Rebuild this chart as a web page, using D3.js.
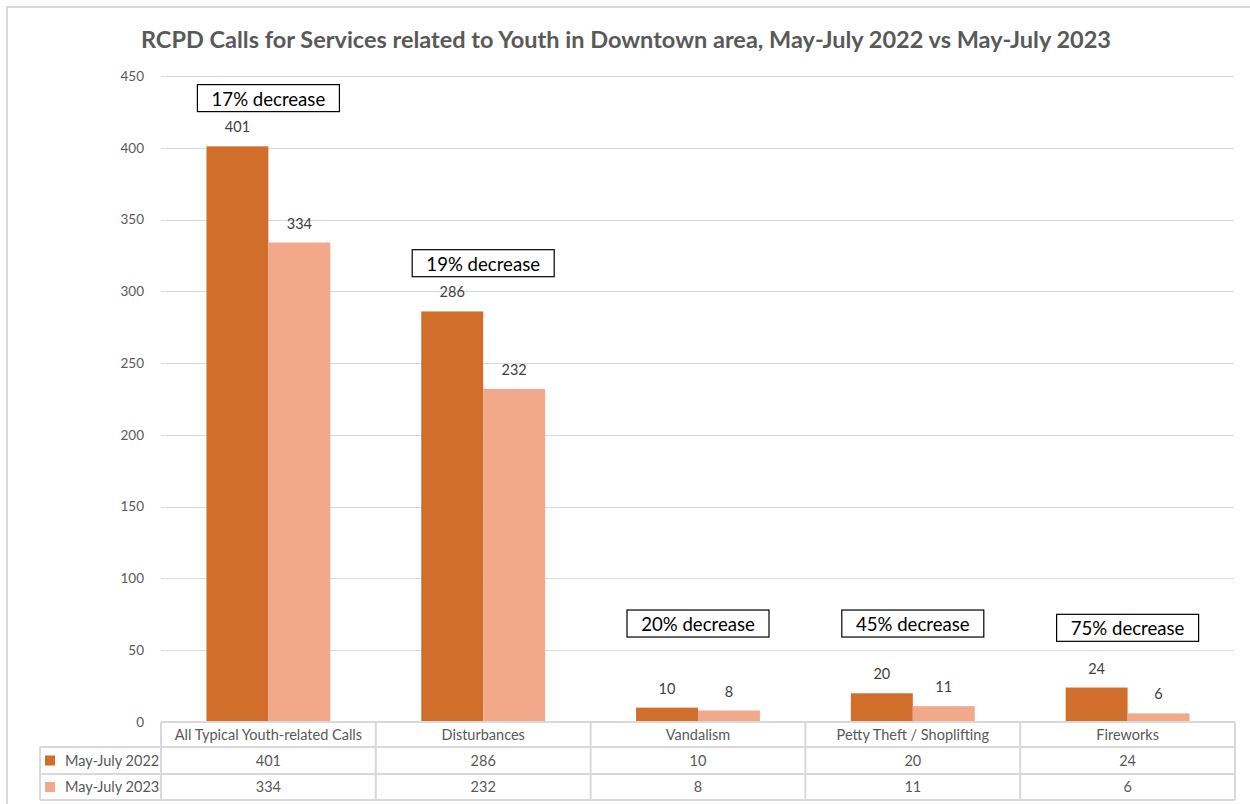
<!DOCTYPE html>
<html>
<head>
<meta charset="utf-8">
<script src="https://cdn.jsdelivr.net/npm/d3@7"></script>
<style>
  html, body { margin: 0; padding: 0; background: #fff; }
  svg { display: block; }
  text { font-family: Lato, "Open Sans", sans-serif; }
</style>
</head>
<body>
<svg id="chart" width="1250" height="804"></svg>
<script>
// ---- data ----
const title = "RCPD Calls for Services related to Youth in Downtown area, May-July 2022 vs May-July 2023";
const categories = ["All Typical Youth-related Calls", "Disturbances", "Vandalism", "Petty Theft / Shoplifting", "Fireworks"];
const seriesNames = ["May-July 2022", "May-July 2023"];
const values2022 = [401, 286, 10, 20, 24];
const values2023 = [334, 232, 8, 11, 6];
const yTicks = [0, 50, 100, 150, 200, 250, 300, 350, 400, 450];
const annotationLabels = ["17% decrease", "19% decrease", "20% decrease", "45% decrease", "75% decrease"];
const annotationTopValues = [444, 329, 78, 78, 75];

// ---- layout ----
const colors = ["#D26E2B", "#F1A88B"];
const svg = d3.select("#chart");
const plot = { left: 161, right: 1235, top: 76, bottom: 722 };
const tableLeft = 40;
const rowH = [25, 27, 26];
const tableFont = 14.5;

// frame
svg.append("path")
  .attr("d", `M7,810 V7 H1260`)
  .attr("fill", "none").attr("stroke", "#d9d9d9").attr("stroke-width", 2);

const x0 = d3.scaleBand().domain(categories).range([plot.left, plot.right]).paddingInner(0).paddingOuter(0);
const x1 = d3.scaleBand().domain(seriesNames).range([0, x0.bandwidth()]).paddingInner(0).paddingOuter(0.734);
const y = d3.scaleLinear().domain([0, 450]).range([plot.bottom, plot.top]);

// title
svg.append("text")
  .attr("x", 626).attr("y", 48)
  .attr("text-anchor", "middle")
  .attr("font-size", 23.5).attr("font-weight", 700)
  .attr("fill", "#595959")
  .text(title);

// gridlines
svg.append("g").selectAll("line").data(yTicks.filter(d => d > 0)).join("line")
  .attr("x1", plot.left).attr("x2", plot.right - 1)
  .attr("y1", d => Math.round(y(d)) + 0.5).attr("y2", d => Math.round(y(d)) + 0.5)
  .attr("stroke", "#d9d9d9").attr("stroke-width", 1.2);

// y axis labels
const yAxis = d3.axisLeft(y).tickValues(yTicks).tickSize(0).tickPadding(0);
const gy = svg.append("g").attr("transform", `translate(${plot.left - 17},0)`).call(yAxis);
gy.select(".domain").remove();
gy.selectAll("text").attr("font-size", 13.5).attr("fill", "#595959").attr("font-family", "Lato, sans-serif");

// bars
const seriesData = [values2022, values2023];
const groups = svg.append("g").selectAll("g").data(seriesData).join("g")
  .attr("fill", (d, i) => colors[i]);
groups.each(function (vals, si) {
  const g = d3.select(this);
  g.selectAll("rect").data(vals).join("rect")
    .attr("x", (v, ci) => x0(categories[ci]) + x1(seriesNames[si]))
    .attr("y", v => y(v))
    .attr("width", x1.bandwidth())
    .attr("height", v => y(0) - y(v));
  svg.append("g").selectAll("text").data(vals).join("text")
    .attr("x", (v, ci) => x0(categories[ci]) + x1(seriesNames[si]) + x1.bandwidth() / 2)
    .attr("y", v => y(v) - 14)
    .attr("text-anchor", "middle")
    .attr("font-size", 14.5).attr("fill", "#404040")
    .text(v => v);
});

// annotation boxes
const ann = svg.append("g").selectAll("g").data(annotationLabels).join("g")
  .attr("transform", (d, i) => `translate(${x0(categories[i]) + x0.bandwidth() / 2},${y(annotationTopValues[i])})`);
ann.append("rect")
  .attr("x", -71).attr("y", 0).attr("width", 142).attr("height", 27)
  .attr("fill", "#fff").attr("stroke", "#000").attr("stroke-width", 1.2);
ann.append("text")
  .attr("x", 0).attr("y", 21)
  .attr("text-anchor", "middle")
  .attr("font-size", 18.6).attr("fill", "#000")
  .text(d => d);

// data table
const table = svg.append("g");
const rowTops = [plot.bottom, plot.bottom + rowH[0], plot.bottom + rowH[0] + rowH[1]];
const tableBottom = rowTops[2] + rowH[2];
const lineColor = "#d9d9d9";
table.append("line").attr("x1", plot.left).attr("x2", plot.right).attr("y1", rowTops[0]).attr("y2", rowTops[0]).attr("stroke", lineColor).attr("stroke-width", 2);
[rowTops[1], rowTops[2], tableBottom].forEach(yy => {
  table.append("line").attr("x1", tableLeft).attr("x2", plot.right).attr("y1", yy).attr("y2", yy).attr("stroke", lineColor).attr("stroke-width", 2);
});
table.append("line").attr("x1", tableLeft).attr("x2", tableLeft).attr("y1", rowTops[1]).attr("y2", tableBottom).attr("stroke", lineColor).attr("stroke-width", 2);
table.selectAll("line.v").data(categories.concat(["_end"])).join("line")
  .attr("class", "v")
  .attr("x1", (d, i) => i < categories.length ? x0(d) : plot.right)
  .attr("x2", (d, i) => i < categories.length ? x0(d) : plot.right)
  .attr("y1", rowTops[0]).attr("y2", tableBottom)
  .attr("stroke", lineColor).attr("stroke-width", 2);
table.selectAll("text.h").data(categories).join("text")
  .attr("class", "h")
  .attr("x", d => x0(d) + x0.bandwidth() / 2)
  .attr("y", rowTops[0] + rowH[0] / 2 + 5)
  .attr("text-anchor", "middle").attr("font-size", tableFont).attr("fill", "#595959")
  .text(d => d);
seriesData.forEach((vals, si) => {
  const cy = rowTops[si + 1] + rowH[si + 1] / 2;
  table.append("rect").attr("x", 45).attr("y", cy - 5).attr("width", 10).attr("height", 10).attr("fill", colors[si]);
  table.append("text").attr("x", 65).attr("y", cy + 5).attr("font-size", tableFont).attr("fill", "#595959").text(seriesNames[si]);
  table.selectAll(null).data(vals).join("text")
    .attr("x", (v, ci) => x0(categories[ci]) + x0.bandwidth() / 2)
    .attr("y", cy + 5)
    .attr("text-anchor", "middle").attr("font-size", tableFont).attr("fill", "#595959")
    .text(v => v);
});
</script>
</body>
</html>
